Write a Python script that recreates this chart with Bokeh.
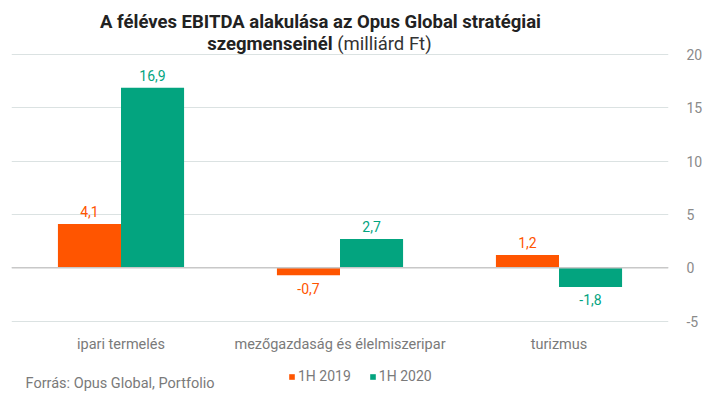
from bokeh.plotting import figure
from bokeh.models import (ColumnDataSource, FactorRange, Range1d, LinearAxis, FixedTicker,
                          Label, LabelSet, Legend, LegendItem, Span, CategoricalAxis,
                          PrintfTickFormatter)
from bokeh.transform import dodge
from bokeh.core.properties import value
from bokeh.embed import file_html
from bokeh.resources import INLINE

categories = ["ipari termelés", "mezőgazdaság és élelmiszeripar", "turizmus"]
series_names = ["1H 2019", "1H 2020"]
values_2019 = [4.1, -0.7, 1.2]
values_2020 = [16.9, 2.7, -1.8]
y_ticks = [-5, 0, 5, 10, 15, 20]

ORANGE = "#FF5500"
GREEN = "#03A47F"
FONT = "Roboto"

def fmt(v):
    return ("%.1f" % v).replace(".", ",")

def label_y(v):
    return v + 1.15 if v >= 0 else v - 1.2

src = ColumnDataSource(dict(
    cat=categories,
    v19=values_2019, v20=values_2020,
    t19=[fmt(v) for v in values_2019], t20=[fmt(v) for v in values_2020],
    y19=[label_y(v) for v in values_2019], y20=[label_y(v) for v in values_2020],
))

W, H = 716, 395
p = figure(width=W, height=H, x_range=FactorRange(*categories),
           y_range=Range1d(-11.98, 25.08), output_backend="svg", toolbar_location=None,
           min_border_left=11, min_border_right=48, min_border_top=0, min_border_bottom=0,
           y_axis_location=None, x_axis_location=None)
p.outline_line_color = None
p.background_fill_color = "white"
p.border_fill_color = "white"

off = 0.144
w = 0.288
r19 = p.vbar(x=dodge("cat", -off, range=p.x_range), top="v19", bottom=0, width=w,
             source=src, fill_color=ORANGE, line_color=None)
r20 = p.vbar(x=dodge("cat", off, range=p.x_range), top="v20", bottom=0, width=w,
             source=src, fill_color=GREEN, line_color=None)

p.add_layout(Span(location=0, dimension="width", line_color="#c8c8c8", line_width=1.5))

p.add_layout(LabelSet(x=dodge("cat", -off, range=p.x_range), y="y19", text="t19", source=src,
                      text_align="center", text_baseline="middle", text_color=ORANGE,
                      text_font=value(FONT), text_font_size="14px"))
p.add_layout(LabelSet(x=dodge("cat", off, range=p.x_range), y="y20", text="t20", source=src,
                      text_align="center", text_baseline="middle", text_color=GREEN,
                      text_font=value(FONT), text_font_size="14px"))

# x axis drawn inside the frame at y = -5
xa = CategoricalAxis(fixed_location=-5)
xa.axis_line_color = None
xa.major_tick_line_color = None
xa.minor_tick_line_color = None
xa.major_label_standoff = 9
xa.major_label_text_color = "#7a7a7a"
xa.major_label_text_font = FONT
xa.major_label_text_font_size = "14.5px"
p.add_layout(xa, "below")
p.xgrid.grid_line_color = None

# right axis
ya = LinearAxis(ticker=FixedTicker(ticks=y_ticks), formatter=PrintfTickFormatter(format="%d"))
ya.axis_line_color = None
ya.major_tick_line_color = None
ya.minor_tick_line_color = None
ya.major_label_standoff = 12
ya.major_label_text_color = "#8a8a8a"
ya.major_label_text_font = FONT
ya.major_label_text_font_size = "14px"
p.add_layout(ya, "right")
p.ygrid.ticker = FixedTicker(ticks=y_ticks)
p.ygrid.grid_line_color = "#dbe2e2"
p.ygrid.grid_line_width = 1

# title (two lines, mixed weight)
TS = "18.5px"
p.add_layout(Label(x=1.411, y=23.1, text="A féléves EBITDA alakulása az Opus Global stratégiai",
                   text_align="center", text_baseline="middle", text_font=FONT,
                   text_font_style="bold", text_font_size=TS, text_color="#222222"))
p.add_layout(Label(x=1.466, y=21.0, text="szegmenseinél",
                   text_align="right", text_baseline="middle", text_font=FONT,
                   text_font_style="bold", text_font_size=TS, text_color="#222222"))
p.add_layout(Label(x=1.487, y=21.0, text="(milliárd Ft)",
                   text_align="left", text_baseline="middle", text_font=FONT,
                   text_font_size=TS, text_color="#333333"))

# source
p.add_layout(Label(x=0.064, y=-10.84, text="Forrás: Opus Global, Portfolio",
                   text_align="left", text_baseline="middle", text_font=FONT,
                   text_font_size="14.5px", text_color="#7a7a7a"))

legend = Legend(items=[LegendItem(label=series_names[0], renderers=[r19]),
                       LegendItem(label=series_names[1], renderers=[r20])],
                orientation="horizontal", location=(277, 11),
                glyph_width=7, glyph_height=7, label_standoff=3, spacing=18,
                padding=0, margin=0, border_line_color=None, background_fill_alpha=0,
                label_text_font=FONT, label_text_font_size="14px",
                label_text_color="#7a7a7a", label_height=16)
p.add_layout(legend, "center")

open("out.html", "w").write(file_html(p, INLINE))
